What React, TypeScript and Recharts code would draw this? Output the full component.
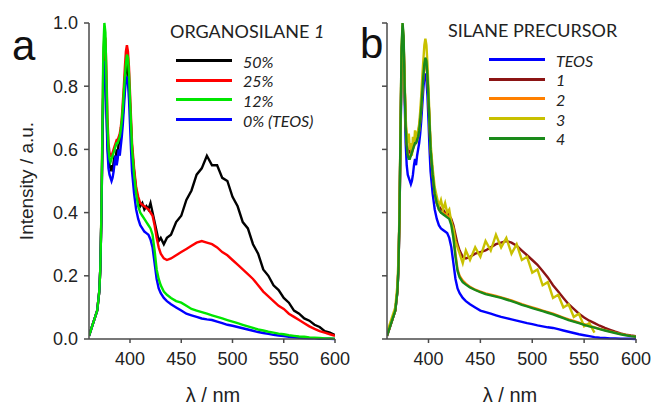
import { LineChart, Line, XAxis, YAxis } from 'recharts'

// wavelength grid (nm), finer around the two sharp peaks
const wl = [
  360, 363, 366, 368, 370, 371, 372, 373, 374, 375, 376, 377, 378, 379, 380, 381, 382, 383, 384, 385,
  386, 387, 388, 389, 390, 391, 392, 393, 394, 395, 396, 397, 398, 399, 400, 401, 402, 404, 406, 408,
  410, 412, 414, 416, 418, 420, 422, 424, 426, 428, 430, 433, 436, 440, 445, 450, 455, 460, 465, 470,
  475, 480, 485, 490, 495, 500, 505, 510, 515, 520, 525, 530, 535, 540, 545, 550, 555, 560, 565, 570,
  575, 580, 585, 590, 595, 600,
]

// panel a: organosilane 1 content
const a50 = [
  0.01, 0.04, 0.07, 0.09, 0.15, 0.22, 0.37, 0.6, 0.8, 0.9, 0.88, 0.75, 0.62, 0.57, 0.55, 0.54, 0.55, 0.53, 0.56, 0.58,
  0.57, 0.6, 0.59, 0.62, 0.62, 0.64, 0.67, 0.71, 0.76, 0.81, 0.85, 0.87, 0.85, 0.8, 0.74, 0.67, 0.6, 0.53, 0.47, 0.44,
  0.42, 0.43, 0.41, 0.42, 0.41, 0.43, 0.4, 0.37, 0.34, 0.31, 0.32, 0.3, 0.32, 0.33, 0.37, 0.39, 0.44, 0.47, 0.52, 0.54,
  0.58, 0.55, 0.55, 0.51, 0.5, 0.45, 0.42, 0.37, 0.35, 0.3, 0.27, 0.22, 0.2, 0.17, 0.155, 0.13, 0.115, 0.09, 0.08, 0.065,
  0.058, 0.045, 0.038, 0.025, 0.02, 0.012,
]
const a25 = [
  0.01, 0.04, 0.07, 0.09, 0.15, 0.22, 0.38, 0.63, 0.88, 0.96, 0.95, 0.85, 0.7, 0.62, 0.59, 0.58, 0.58, 0.59, 0.6, 0.61,
  0.62, 0.63, 0.63, 0.64, 0.65, 0.67, 0.7, 0.75, 0.8, 0.86, 0.91, 0.93, 0.91, 0.86, 0.78, 0.7, 0.62, 0.54, 0.48, 0.45,
  0.43, 0.425, 0.42, 0.415, 0.41, 0.4, 0.39, 0.36, 0.32, 0.29, 0.27, 0.255, 0.25, 0.255, 0.265, 0.275, 0.285, 0.295, 0.305, 0.31,
  0.305, 0.3, 0.29, 0.275, 0.265, 0.25, 0.235, 0.22, 0.205, 0.19, 0.17, 0.15, 0.135, 0.12, 0.105, 0.095, 0.08, 0.07, 0.06, 0.05,
  0.04, 0.032, 0.025, 0.02, 0.015, 0.01,
]
const a12 = [
  0.01, 0.04, 0.07, 0.09, 0.15, 0.22, 0.38, 0.65, 0.92, 1.0, 0.97, 0.82, 0.68, 0.6, 0.57, 0.56, 0.57, 0.58, 0.59, 0.6,
  0.61, 0.62, 0.62, 0.63, 0.64, 0.66, 0.69, 0.73, 0.78, 0.83, 0.87, 0.9, 0.89, 0.84, 0.76, 0.68, 0.6, 0.52, 0.46, 0.42,
  0.4, 0.39, 0.38, 0.37, 0.36, 0.35, 0.33, 0.28, 0.22, 0.19, 0.17, 0.15, 0.14, 0.13, 0.12, 0.115, 0.105, 0.095, 0.09, 0.085,
  0.08, 0.075, 0.07, 0.065, 0.06, 0.055, 0.05, 0.045, 0.04, 0.035, 0.03, 0.027, 0.023, 0.02, 0.017, 0.015, 0.012, 0.01, 0.008, 0.007,
  0.005, 0.004, 0.003, 0.002, 0.002, 0.001,
]
const a0 = [
  0.01, 0.04, 0.07, 0.09, 0.15, 0.22, 0.37, 0.6, 0.8, 0.88, 0.85, 0.72, 0.6, 0.54, 0.52, 0.51, 0.5, 0.51, 0.53, 0.56,
  0.58, 0.55, 0.57, 0.6, 0.58, 0.61, 0.64, 0.68, 0.73, 0.78, 0.82, 0.83, 0.81, 0.76, 0.68, 0.6, 0.53, 0.46, 0.41, 0.38,
  0.36, 0.35, 0.34, 0.335, 0.33, 0.315, 0.29, 0.24, 0.19, 0.16, 0.145, 0.13, 0.12, 0.11, 0.1, 0.09, 0.08, 0.075, 0.07, 0.065,
  0.062, 0.06, 0.055, 0.05, 0.045, 0.042, 0.038, 0.034, 0.03, 0.026, 0.022, 0.019, 0.016, 0.013, 0.011, 0.009, 0.007, 0.005, 0.004, 0.003,
  0.002, 0.002, 0.001, 0.001, 0.001, 0,
]

// panel b: silane precursor
const bTeos = [
  0.01, 0.04, 0.07, 0.09, 0.15, 0.22, 0.38, 0.62, 0.86, 0.97, 0.92, 0.76, 0.62, 0.55, 0.52, 0.51, 0.5, 0.49, 0.5, 0.52,
  0.55, 0.57, 0.55, 0.58, 0.6, 0.62, 0.65, 0.69, 0.74, 0.79, 0.83, 0.84, 0.82, 0.77, 0.69, 0.6, 0.53, 0.46, 0.41, 0.38,
  0.36, 0.35, 0.345, 0.34, 0.335, 0.32, 0.29, 0.24, 0.19, 0.16, 0.145, 0.13, 0.12, 0.11, 0.1, 0.09, 0.085, 0.08, 0.075, 0.07,
  0.066, 0.062, 0.058, 0.054, 0.05, 0.047, 0.043, 0.04, 0.037, 0.035, 0.031, 0.027, 0.023, 0.019, 0.015, 0.012, 0.009, 0.006, 0.004, 0.003,
  0.002, 0.002, 0.001, 0.001, 0.001, 0,
]
const b1 = [
  0.01, 0.04, 0.07, 0.09, 0.15, 0.22, 0.38, 0.63, 0.88, 0.97, 0.94, 0.8, 0.68, 0.62, 0.6, 0.59, 0.59, 0.6, 0.6, 0.61,
  0.62, 0.62, 0.63, 0.64, 0.65, 0.67, 0.7, 0.74, 0.79, 0.84, 0.87, 0.88, 0.87, 0.83, 0.76, 0.68, 0.6, 0.52, 0.46, 0.43,
  0.42, 0.41, 0.41, 0.4, 0.4, 0.39, 0.38, 0.36, 0.33, 0.3, 0.28, 0.26, 0.255, 0.26, 0.27, 0.275, 0.28, 0.29, 0.3, 0.305,
  0.31, 0.305, 0.295, 0.28, 0.265, 0.25, 0.235, 0.215, 0.195, 0.17, 0.15, 0.13, 0.11, 0.095, 0.08, 0.068, 0.058, 0.05, 0.042, 0.035,
  0.029, 0.023, 0.018, 0.014, 0.011, 0.009,
]
const b2 = [
  0.01, 0.04, 0.07, 0.09, 0.15, 0.22, 0.38, 0.64, 0.9, 0.99, 0.95, 0.8, 0.68, 0.62, 0.59, 0.58, 0.58, 0.58, 0.59, 0.6,
  0.61, 0.62, 0.62, 0.63, 0.64, 0.66, 0.69, 0.73, 0.78, 0.83, 0.86, 0.88, 0.87, 0.83, 0.76, 0.68, 0.6, 0.52, 0.46, 0.43,
  0.41, 0.4, 0.4, 0.395, 0.39, 0.385, 0.37, 0.33, 0.27, 0.22, 0.2, 0.185, 0.175, 0.165, 0.156, 0.15, 0.144, 0.14, 0.136, 0.132,
  0.127, 0.122, 0.116, 0.11, 0.105, 0.1, 0.095, 0.09, 0.085, 0.08, 0.074, 0.068, 0.062, 0.057, 0.052, 0.047, 0.042, 0.037, 0.032, 0.028,
  0.024, 0.02, 0.016, 0.013, 0.01, 0.008,
]
const b3 = [
  0.02, 0.05, 0.08, 0.1, 0.17, 0.25, 0.4, 0.66, 0.9, 1.0, 0.93, 0.82, 0.7, 0.64, 0.62, 0.65, 0.6, 0.62, 0.58, 0.64,
  0.61, 0.66, 0.62, 0.65, 0.66, 0.68, 0.72, 0.77, 0.83, 0.88, 0.93, 0.95, 0.93, 0.87, 0.79, 0.7, 0.62, 0.54, 0.48, 0.45,
  0.42, 0.44, 0.41, 0.43, 0.4, 0.41, 0.37, 0.35, 0.31, 0.29, 0.27, 0.24, 0.28, 0.25, 0.29, 0.26, 0.31, 0.28, 0.33, 0.29,
  0.32, 0.27, 0.3, 0.25, 0.26, 0.21, 0.22, 0.17, 0.18, 0.13, 0.14, 0.1, 0.11, 0.07, 0.08, 0.04, 0.05, 0.02, null, null,
  null, null, null, null, null, null,
]
const b4 = [
  0.01, 0.04, 0.07, 0.09, 0.15, 0.22, 0.38, 0.65, 0.92, 1.0, 0.96, 0.8, 0.67, 0.61, 0.58, 0.57, 0.57, 0.58, 0.59, 0.6,
  0.61, 0.62, 0.62, 0.63, 0.64, 0.66, 0.69, 0.73, 0.78, 0.83, 0.87, 0.89, 0.88, 0.83, 0.76, 0.68, 0.6, 0.52, 0.46, 0.43,
  0.41, 0.4, 0.395, 0.39, 0.385, 0.38, 0.36, 0.32, 0.26, 0.215, 0.195, 0.18, 0.172, 0.163, 0.155, 0.148, 0.142, 0.138, 0.134, 0.13,
  0.125, 0.12, 0.114, 0.108, 0.103, 0.098, 0.093, 0.088, 0.083, 0.078, 0.072, 0.066, 0.06, 0.055, 0.05, 0.045, 0.04, 0.036, 0.031, 0.027,
  0.023, 0.019, 0.015, 0.012, 0.009, 0.007,
]

const xTicks = [400, 450, 500, 550, 600]
const yTicks = [0, 0.2, 0.4, 0.6, 0.8, 1.0]

const legendA = [
  { label: '50%', color: '#000000' },
  { label: '25%', color: '#ff0000' },
  { label: '12%', color: '#00e600' },
  { label: '0% (TEOS)', color: '#0000ff' },
]
const legendB = [
  { label: 'TEOS', color: '#0000ff' },
  { label: '1', color: '#8b1414' },
  { label: '2', color: '#ff8000' },
  { label: '3', color: '#c8c000' },
  { label: '4', color: '#1a8a1a' },
]

const dataA = wl.map((w, i) => ({ wl: w, a50: a50[i], a25: a25[i], a12: a12[i], a0: a0[i] }))
const dataB = wl.map((w, i) => ({ wl: w, teos: bTeos[i], s1: b1[i], s2: b2[i], s3: b3[i], s4: b4[i] }))

const axisColor = '#4a4a4a'
const sans = '"Liberation Sans", Arial, sans-serif'
const tickFont = { fontSize: 18, fill: '#222', fontFamily: sans }
const legendFont = 'Lato, "Open Sans", sans-serif'

type Item = { label: string; color: string }

function Legend({ titleLeft, lineLeft, top, title, items }: { titleLeft: number; lineLeft: number; top: number; title: React.ReactNode; items: Item[] }) {
  return (
    <>
      <div style={{ position: 'absolute', left: titleLeft, top, fontFamily: legendFont, color: '#222', fontSize: 18, lineHeight: '20px', whiteSpace: 'nowrap' }}>
        {title}
      </div>
      {items.map((it, i) => (
        <div key={it.label}>
          <div style={{ position: 'absolute', left: lineLeft, top: top + 38 + i * 19.7, width: 56, height: 3, background: it.color }} />
          <div
            style={{
              position: 'absolute', left: lineLeft + 67, top: top + 30.5 + i * 19.7, fontSize: 16, lineHeight: '19px',
              fontStyle: 'italic', whiteSpace: 'nowrap', fontFamily: legendFont, color: '#222',
            }}
          >
            {it.label}
          </div>
        </div>
      ))}
    </>
  )
}

export default function App() {
  return (
    <div style={{ position: 'absolute', left: 0, top: 0, width: 652, height: 410, background: '#fff', overflow: 'hidden' }}>
      <div style={{ position: 'absolute', left: 0, top: 0 }}>
        <LineChart width={360} height={410} data={dataA} margin={{ top: 23, right: 25, bottom: 0, left: 29 }}>
          <XAxis
            dataKey="wl" type="number" domain={[360, 600]} ticks={xTicks} allowDataOverflow
            height={71} stroke={axisColor} strokeWidth={1.5} tickSize={4} tickMargin={9} tick={tickFont}
          />
          <YAxis
            type="number" domain={[0, 1]} ticks={yTicks} width={60} stroke={axisColor} strokeWidth={1.5}
            tickSize={5} tickMargin={6} tick={tickFont} tickFormatter={(v: number) => v.toFixed(1)}
          />
          <Line dataKey="a50" stroke="#000000" strokeWidth={2.4} dot={false} isAnimationActive={false} />
          <Line dataKey="a25" stroke="#ff0000" strokeWidth={2.4} dot={false} isAnimationActive={false} />
          <Line dataKey="a0" stroke="#0000ff" strokeWidth={2.4} dot={false} isAnimationActive={false} />
          <Line dataKey="a12" stroke="#00e600" strokeWidth={2.4} dot={false} isAnimationActive={false} />
        </LineChart>
      </div>
      <div style={{ position: 'absolute', left: 330, top: 0 }}>
        <LineChart width={322} height={410} data={dataB} margin={{ top: 23, right: 16, bottom: 0, left: 0 }}>
          <XAxis
            dataKey="wl" type="number" domain={[360, 600]} ticks={xTicks} allowDataOverflow
            height={71} stroke={axisColor} strokeWidth={1.5} tickSize={4} tickMargin={9} tick={tickFont}
          />
          <YAxis
            type="number" domain={[0, 1]} ticks={yTicks} width={57} stroke={axisColor} strokeWidth={1.5}
            tickSize={5} tick={tickFont} tickFormatter={() => ''}
          />
          <Line dataKey="teos" stroke="#0000ff" strokeWidth={2.4} dot={false} isAnimationActive={false} />
          <Line dataKey="s1" stroke="#8b1414" strokeWidth={2.4} dot={false} isAnimationActive={false} />
          <Line dataKey="s2" stroke="#ff8000" strokeWidth={2.4} dot={false} isAnimationActive={false} />
          <Line dataKey="s3" stroke="#c8c000" strokeWidth={2.4} dot={false} isAnimationActive={false} />
          <Line dataKey="s4" stroke="#1a8a1a" strokeWidth={2.4} dot={false} isAnimationActive={false} />
        </LineChart>
      </div>

      <div style={{ position: 'absolute', left: 12, top: 22, fontSize: 42, lineHeight: '48px', fontFamily: sans, color: '#111' }}>a</div>
      <div style={{ position: 'absolute', left: 360, top: 20, fontSize: 42, lineHeight: '48px', fontFamily: sans, color: '#111' }}>b</div>

      <div
        style={{
          position: 'absolute', left: 27, top: 181, transform: 'translate(-50%, -50%) rotate(-90deg)',
          fontSize: 19, fontFamily: sans, color: '#222', whiteSpace: 'nowrap',
        }}
      >
        Intensity / a.u.
      </div>
      <div style={{ position: 'absolute', left: 213, top: 395, transform: 'translate(-50%, -50%)', fontSize: 20, fontFamily: sans, color: '#222', whiteSpace: 'nowrap' }}>
        λ / nm
      </div>
      <div style={{ position: 'absolute', left: 510, top: 395, transform: 'translate(-50%, -50%)', fontSize: 20, fontFamily: sans, color: '#222', whiteSpace: 'nowrap' }}>
        λ / nm
      </div>

      <Legend titleLeft={170} lineLeft={176} top={21} title={<>ORGANOSILANE <i>1</i></>} items={legendA} />
      <Legend titleLeft={448} lineLeft={489} top={20} title="SILANE PRECURSOR" items={legendB} />
    </div>
  )
}
